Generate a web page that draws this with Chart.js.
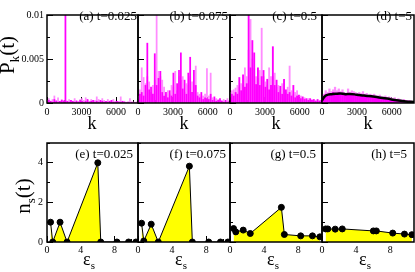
<!DOCTYPE html>
<html>
<head>
<meta charset="UTF-8">
<title>P_k(t) and n_s(t)</title>
<style>
    body { margin: 0; background: #fff; }
    #fig { position: relative; width: 415px; height: 272px; font-family: "Liberation Serif", serif; color: #000; }
    #fig canvas { position: absolute; left: 0; top: 0; }
    .lbl { position: absolute; white-space: nowrap; }
    .note { font-size: 13px; line-height: 13px; }
    .xt { font-size: 18px; line-height: 18px; transform: translate(-50%, -50%); }
    .yt { font-size: 21px; line-height: 21px; transform: translate(-50%, -50%) rotate(-90deg); }
    .xt sub { font-size: 11px; }
    .yt sub { font-size: 13px; }
</style>
<script src="https://cdn.jsdelivr.net/npm/chart.js"></script>
<script>
    // k bins for the histograms (top row)
    var kBins = [0,160,320,480,640,800,960,1120,1280,1440,
                 1600,1760,1920,2080,2240,2400,2560,2720,2880,3040,
                 3200,3360,3520,3680,3840,4000,4160,4320,4480,4640,
                 4800,4960,5120,5280,5440,5600,5760,5920,6080,6240,
                 6400,6560,6720,6880,7040,7200,7360,7520,7680,7840];

    // (a) t=0.025
    var pMagA = [0.0001,0.0003,0.0002,0.0001,0.0004,0.0002,0.0001,0.0002,0.0003,0.0002,
                 0.0102,0.0002,0.0001,0.0003,0.0002,0.0001,0.0002,0.0001,0.0003,0.0002,
                 0.0001,0.0002,0.0004,0.0001,0.0002,0.0003,0.0001,0.0002,0.0001,0.0003,
                 0.0002,0.0001,0.0002,0.0001,0.0002,0.0003,0.0001,0.0001,0.0002,0.0001,
                 0.0001,0.0002,0.0001,0,0.0001,0,0.0001,0,0,0.0001];
    var pLightA = [0.0003,0.0005,0.0002,0.0004,0.0008,0.0003,0.0006,0.0002,0.0004,0.0003,
                   0.0003,0.0002,0.0004,0.0003,0.0002,0.0005,0.0003,0.0002,0.0004,0.0005,
                   0.0003,0.0006,0.0003,0.0002,0.0004,0.0002,0.0003,0.0007,0.0004,0.0002,
                   0.0005,0.0003,0.0002,0.0004,0.0002,0.0003,0.0004,0.0002,0.0001,0.0002,
                   0.0007,0.0001,0.0002,0.0001,0.0001,0.0005,0.0001,0.0001,0.0001,0.0001];

    // (b) t=0.075
    var pMagB = [0.0004,0.0010,0.0012,0.0008,0.0020,0.0068,0.0015,0.0018,0.0010,0.0056,
                 0.0020,0.0028,0.0036,0.0012,0.0008,0.0012,0.0006,0.0014,0.0008,0.0034,
                 0.0010,0.0022,0.0037,0.0057,0.0016,0.0026,0.0010,0.0034,0.0052,0.0012,
                 0.0037,0.0020,0.0008,0.0006,0.0012,0.0004,0.0006,0.0005,0.0004,0.0010,
                 0.0003,0.0007,0.0002,0.0003,0.0005,0.0002,0.0001,0.0003,0.0001,0.0002];
    var pLightB = [0.0008,0.0015,0.0040,0.0029,0.0022,0.0030,0.0024,0.0012,0.0020,0.0026,
                   0.0105,0.0036,0.0030,0.0026,0.0018,0.0010,0.0014,0.0010,0.0020,0.0018,
                   0.0036,0.0014,0.0030,0.0026,0.0030,0.0012,0.0022,0.0020,0.0030,0.0024,
                   0.0020,0.0042,0.0012,0.0010,0.0008,0.0008,0.0010,0.0039,0.0008,0.0034,
                   0.0006,0.0004,0.0005,0.0004,0.0003,0.0003,0.0004,0.0002,0.0005,0.0003];

    // (c) t=0.5
    var pMagC = [0.0006,0.0010,0.0008,0.0012,0.0010,0.0029,0.0014,0.0032,0.0018,0.0022,
                 0.0105,0.0040,0.0071,0.0057,0.0021,0.0040,0.0020,0.0030,0.0037,0.0018,
                 0.0027,0.0015,0.0020,0.0064,0.0020,0.0026,0.0012,0.0019,0.0010,0.0027,
                 0.0015,0.0010,0.0012,0.0008,0.0020,0.0006,0.0008,0.0009,0.0005,0.0007,
                 0.0004,0.0005,0.0003,0.0005,0.0003,0.0004,0.0002,0.0004,0.0002,0.0003];
    var pLightC = [0.0012,0.0014,0.0015,0.0017,0.0020,0.0018,0.0022,0.0020,0.0040,0.0030,
                   0.0060,0.0095,0.0050,0.0039,0.0030,0.0028,0.0037,0.0085,0.0030,0.0024,
                   0.0020,0.0040,0.0030,0.0030,0.0034,0.0018,0.0020,0.0014,0.0022,0.0016,
                   0.0012,0.0018,0.0042,0.0014,0.0010,0.0012,0.0014,0.0006,0.0008,0.0005,
                   0.0006,0.0004,0.0005,0.0003,0.0004,0.0002,0.0003,0.0002,0.0003,0.0002];

    // (d) t=5
    var pMagD = [0.0004,0.0008,0.0010,0.0009,0.0011,0.0010,0.0012,0.0010,0.0011,0.0012,
                 0.0010,0.0011,0.0009,0.0010,0.0011,0.0009,0.0010,0.0011,0.0009,0.0010,
                 0.0008,0.0009,0.0008,0.0009,0.0007,0.0008,0.0007,0.0008,0.0006,0.0007,
                 0.0006,0.0006,0.0005,0.0006,0.0005,0.0005,0.0004,0.0004,0.0003,0.0004,
                 0.0003,0.0003,0.0002,0.0002,0.0002,0.0002,0.0002,0.0001,0.0001,0.0001];
    var pLightD = [0.0006,0.0010,0.0014,0.0012,0.0016,0.0013,0.0015,0.0018,0.0014,0.0016,
                   0.0013,0.0015,0.0012,0.0011,0.0016,0.0012,0.0014,0.0013,0.0012,0.0011,
                   0.0012,0.0011,0.0013,0.0010,0.0011,0.0009,0.0010,0.0009,0.0010,0.0008,
                   0.0008,0.0009,0.0007,0.0007,0.0008,0.0006,0.0007,0.0006,0.0005,0.0006,
                   0.0004,0.0005,0.0004,0.0003,0.0004,0.0003,0.0003,0.0003,0.0002,0.0002];
    var kCurveD = [0,200,400,800,1200,1600,2000,2400,2800,3200,3600,4000,4800,5600,6400,7200,7900];
    var pCurveD = [0.0003,0.0007,0.0009,0.0010,0.00105,0.00108,0.0010,0.00102,0.00098,0.0009,
                   0.00085,0.0008,0.00065,0.0005,0.0003,0.00018,0.00012];

    // bottom row: occupation n_s(t) of levels eps_s
    var epsS = [0.42, 0.68, 1.55, 2.38, 6.03, 6.38, 8.3, 9.68, 10.55];
    var nE = [1.0, 0.0, 1.0, 0.0, 4.0, 0.0, 0.0, 0.0, 0.0];
    var nF = [0.95, 0.05, 0.9, 0.0, 3.83, 0.0, 0.0, 0.0, 0.0];
    var nG = [0.68, 0.51, 0.6, 0.43, 1.75, 0.38, 0.31, 0.31, 0.26];
    var nH = [0.66, 0.66, 0.65, 0.66, 0.56, 0.56, 0.45, 0.4, 0.37];

    // ticks
    var kTicks = [0, 3000, 6000];
    var kMinor = [1500, 4500, 7500];
    var pTicks = [0, 0.005, 0.01];
    var pMinor = [0.0025, 0.0075];
    var epsTicks = [0, 4, 8];
    var epsMinor = [2, 6, 10];
    var nTicks = [0, 2, 4];
    var nMinor = [1, 3, 5];

    var W = 415, H = 272;
    var AX_H = 25, AX_W = 40;   // room kept for tick labels

    function toXY(xs, ys) {
        return xs.map(function(x, i) { return {x: x, y: ys[i]}; });
    }

    // inward ticks (negative tick length); minor axis sits next to the plot with size 0
    function axis(pos, lo, hi, ticks, len, pad, show, major) {
        return {
            type: 'linear', position: pos, min: lo, max: hi, offset: false, z: 1,
            weight: major ? 1 : 0,
            grid: { drawOnChartArea: false, drawTicks: true, tickLength: -len, tickColor: '#000', tickWidth: 1, offset: false },
            border: { display: false },
            ticks: {
                padding: pad, autoSkip: false, maxRotation: 0, color: '#000',
                font: { family: 'Liberation Serif', size: 10 },
                callback: function(v) { return show ? String(v) : ''; }
            },
            afterBuildTicks: function(s) { s.ticks = ticks.map(function(v) { return {value: v}; }); },
            afterFit: function(s) {
                if (s.isHorizontal()) s.height = major ? AX_H : 0;
                else s.width = major ? AX_W : 0;
            }
        };
    }

    var framePlugin = {
        id: 'frame',
        afterDraw: function(chart) {
            var a = chart.chartArea, c = chart.ctx;
            c.save();
            c.strokeStyle = '#000';
            c.lineWidth = 1.5;
            c.strokeRect(a.left, a.top, a.right - a.left, a.bottom - a.top);
            c.restore();
        }
    };

    function panel(id, type, box, datasets, scales) {
        var ctx = document.getElementById(id).getContext('2d');
        new Chart(ctx, {
            type: type,
            data: { datasets: datasets },
            options: {
                responsive: false, animation: false, events: [],
                layout: { autoPadding: false, padding: {
                    left: box[0] - AX_W, top: box[1], right: W - box[2], bottom: H - box[3] - AX_H } },
                plugins: { legend: { display: false }, tooltip: { enabled: false } },
                scales: scales
            },
            plugins: [framePlugin]
        });
    }

    function topPanel(id, left, right, pMag, pLight, showY, barW, extra) {
        var ds = [
            { type: 'bar', data: toXY(kBins, pLight), backgroundColor: '#ff8cff', barThickness: barW, grouped: false, order: 2 },
            { type: 'bar', data: toXY(kBins, pMag), backgroundColor: '#ff00ff', barThickness: barW, grouped: false, order: 1 }
        ];
        if (extra) ds.push(extra);
        panel(id, 'bar', [left, 5, right, 103], ds, {
            x: axis('bottom', 0, 7900, kTicks, 6, 9, true, true),
            x2: axis('bottom', 0, 7900, kMinor, 3, 0, false, false),
            y: axis('left', 0, 0.01, pTicks, 6, 9, showY, true),
            y2: axis('left', 0, 0.01, pMinor, 3, 0, false, false)
        });
    }

    function bottomPanel(id, left, right, n, showY) {
        var ds = [{
            data: toXY(epsS, n), borderColor: '#000', borderWidth: 1, backgroundColor: '#ffff00',
            fill: 'origin', tension: 0, pointRadius: 3, pointBackgroundColor: '#000', pointBorderColor: '#000'
        }];
        panel(id, 'line', [left, 143, right, 242], ds, {
            x: axis('bottom', 0, 10.8, epsTicks, 6, 8, true, true),
            x2: axis('bottom', 0, 10.8, epsMinor, 3, 0, false, false),
            y: axis('left', 0, 5, nTicks, 6, 10, showY, true),
            y2: axis('left', 0, 5, nMinor, 3, 0, false, false)
        });
    }

    window.onload = function() {
        topPanel('ca', 47, 138, pMagA, pLightA, true, 1.1);
        topPanel('cb', 138, 230, pMagB, pLightB, false, 1.1);
        topPanel('cc', 230, 322, pMagC, pLightC, false, 1.2);
        topPanel('cd', 322, 414, pMagD, pLightD, false, 1.6, {
            type: 'line', data: toXY(kCurveD, pCurveD), borderColor: '#000', borderWidth: 2.5,
            pointRadius: 0, fill: false, tension: 0.3, order: 0
        });
        bottomPanel('ce', 47, 138, nE, true);
        bottomPanel('cf', 138, 230, nF, false);
        bottomPanel('cg', 230, 322, nG, false);
        bottomPanel('ch', 322, 414, nH, false);
    };
</script>
</head>
<body>
<div id="fig">
    <canvas id="ca" width="415" height="272"></canvas>
    <canvas id="cb" width="415" height="272"></canvas>
    <canvas id="cc" width="415" height="272"></canvas>
    <canvas id="cd" width="415" height="272"></canvas>
    <canvas id="ce" width="415" height="272"></canvas>
    <canvas id="cf" width="415" height="272"></canvas>
    <canvas id="cg" width="415" height="272"></canvas>
    <canvas id="ch" width="415" height="272"></canvas>

    <div class="lbl note" style="right:278px; top:9px;">(a) t=0.025</div>
    <div class="lbl note" style="right:187px; top:9px;">(b) t=0.075</div>
    <div class="lbl note" style="right:98px; top:9px;">(c) t=0.5</div>
    <div class="lbl note" style="right:3px; top:9px;">(d) t=5</div>
    <div class="lbl note" style="right:282px; top:147px;">(e) t=0.025</div>
    <div class="lbl note" style="right:189px; top:147px;">(f) t=0.075</div>
    <div class="lbl note" style="right:99px; top:147px;">(g) t=0.5</div>
    <div class="lbl note" style="right:8px; top:147px;">(h) t=5</div>

    <div class="lbl yt" style="left:11px; top:55px;">P<sub>k</sub>(t)</div>
    <div class="lbl yt" style="left:27px; top:196px;">n<sub>s</sub>(t)</div>

    <div class="lbl xt" style="left:92px; top:123px;">k</div>
    <div class="lbl xt" style="left:184px; top:123px;">k</div>
    <div class="lbl xt" style="left:276px; top:123px;">k</div>
    <div class="lbl xt" style="left:368px; top:123px;">k</div>
    <div class="lbl xt" style="left:89px; top:262px;">ε<sub>s</sub></div>
    <div class="lbl xt" style="left:181px; top:262px;">ε<sub>s</sub></div>
    <div class="lbl xt" style="left:273px; top:262px;">ε<sub>s</sub></div>
    <div class="lbl xt" style="left:365px; top:262px;">ε<sub>s</sub></div>
</div>
</body>
</html>
